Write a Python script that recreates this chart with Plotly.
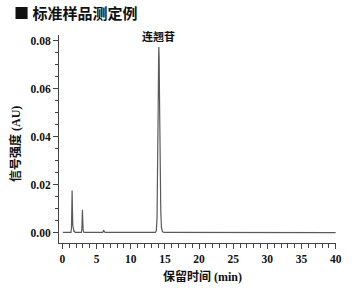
import plotly.graph_objects as go

# Chromatogram trace (retention time in min, signal in AU)
time_min = [0.05, 0.6, 1.25, 1.33, 1.38, 1.42, 1.46, 1.52, 1.6, 1.7, 1.76, 1.82, 1.95,
            2.78, 2.85, 2.89, 2.93, 2.97, 3.02, 3.1, 3.25,
            5.9, 6.0, 6.05, 6.12, 6.25,
            13.6, 13.75, 13.85, 13.95, 14.02, 14.08, 14.12, 14.16, 14.22, 14.3, 14.4, 14.5, 14.65, 14.9,
            25.0, 40.0]
signal_au = [0.0, 0.0, 0.0, 0.002, 0.010, 0.0175, 0.011, 0.003, 0.0005, 0.0002, 0.0008, 0.0001, 0.0,
             0.0, 0.0015, 0.006, 0.0095, 0.006, 0.0015, 0.0002, 0.0,
             0.0, 0.0006, 0.001, 0.0004, 0.0,
             0.0, 0.0008, 0.006, 0.025, 0.052, 0.072, 0.0775, 0.073, 0.055, 0.028, 0.009, 0.002, 0.0003, 0.0,
             -0.0001, -0.0001]

peak_name = "连翘苷"
peak_time = 14.12
peak_label_y = 0.0822

x_ticks = [0, 5, 10, 15, 20, 25, 30, 35, 40]
x_tick_text = ["0", "5", "10", "15", "20", "25", "30", "35", "40"]
y_ticks = [0.00, 0.02, 0.04, 0.06, 0.08]
y_tick_text = ["0.00", "0.02", "0.04", "0.06", "0.08"]

serif = "Liberation Serif, DejaVu Serif, serif"
cjk = "Noto Sans CJK SC, Liberation Serif, serif"


def mixed(cn, latin):
    return ("<b>" + cn + "<span style='font-family:Liberation Serif'>" + latin + "</span></b>")


fig = go.Figure()
fig.add_trace(go.Scatter(x=time_min, y=signal_au, mode="lines",
                         line=dict(color="#5a5a5a", width=1.2), showlegend=False,
                         hoverinfo="skip"))

fig.add_annotation(x=peak_time, y=peak_label_y, xref="x", yref="y",
                   text="<b>" + peak_name + "</b>", showarrow=False,
                   font=dict(family=cjk, size=11, color="#111"),
                   xanchor="center", yanchor="middle")

fig.add_annotation(x=-44 / 277, y=0.476, xref="paper", yref="paper",
                   text=mixed("信号强度", " (AU)"), showarrow=False, textangle=-90,
                   font=dict(family=cjk, size=12, color="#111"),
                   xanchor="center", yanchor="middle")

fig.add_annotation(x=(202 - 59) / 277, y=-32 / 208, xref="paper", yref="paper",
                   text=mixed("保留时间", " (min)"), showarrow=False,
                   font=dict(family=cjk, size=12, color="#111"),
                   xanchor="center", yanchor="middle")

fig.update_layout(
    width=353, height=288,
    margin=dict(l=59, r=17, t=35, b=45),
    paper_bgcolor="white", plot_bgcolor="white",
    title=dict(text="<b>■ 标准样品测定例</b>", xref="container", yref="container",
               x=14 / 353, xanchor="left", y=1 - 14 / 288, yanchor="middle",
               font=dict(family=cjk, size=15, color="#111")),
    xaxis=dict(range=[-0.5, 40.05], showgrid=False, zeroline=False,
               showline=True, linecolor="#444", linewidth=1,
               tickmode="array", tickvals=x_ticks,
               ticktext=["<b>" + t + "</b>" for t in x_tick_text],
               ticks="outside", ticklen=5, tickcolor="#444", tickwidth=1,
               tickfont=dict(family=serif, size=11.5, color="#111"),
               minor=dict(dtick=1, tick0=0, ticks="outside", ticklen=4, tickcolor="#444"),
               fixedrange=True),
    yaxis=dict(range=[-0.0044, 0.0825], showgrid=False, zeroline=False,
               showline=True, linecolor="#444", linewidth=1,
               tickmode="array", tickvals=y_ticks,
               ticktext=["<b>" + t + "</b>" for t in y_tick_text],
               ticks="outside", ticklen=5, tickcolor="#444", tickwidth=1,
               tickfont=dict(family=serif, size=11.5, color="#111"),
               minor=dict(dtick=0.005, tick0=0, ticks="outside", ticklen=3, tickcolor="#444"),
               fixedrange=True),
)

fig.write_html("out.html")
